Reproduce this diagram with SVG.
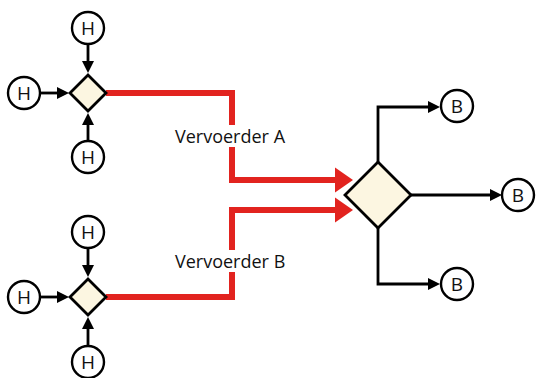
<svg xmlns="http://www.w3.org/2000/svg" width="536" height="378" viewBox="0 0 536 378">
<style>
.c{fill:#fff;stroke:#000;stroke-width:2.4}
.d{fill:#fcf6e1;stroke:#000;stroke-width:2.8;stroke-linejoin:miter}
.t{font-family:"Open Sans","DejaVu Sans",sans-serif;font-size:18px;fill:#111}
.ct{font-family:"Open Sans","DejaVu Sans",sans-serif;font-size:19px;fill:#111;text-anchor:middle}
.k{fill:none;stroke:#000;stroke-width:2.8}
.r{fill:none;stroke:#e2231f;stroke-width:6;stroke-linejoin:miter}
</style>
<defs>
<marker id="ak" markerUnits="userSpaceOnUse" markerWidth="12" markerHeight="12" refX="0" refY="6" orient="auto"><path d="M0,0 L12,6 L0,12 z" fill="#000"/></marker>
<marker id="ar" markerUnits="userSpaceOnUse" markerWidth="18" markerHeight="26" refX="0" refY="13" orient="auto"><path d="M0,0.5 L18,13 L0,25.5 z" fill="#e2231f"/></marker>
</defs>
<g id="connectors">
<path class="r" d="M106,93 H232 V180 H335" marker-end="url(#ar)"/>
<path class="r" d="M106,297 H232 V210 H335" marker-end="url(#ar)"/>
<path class="k" d="M88,44 V61" marker-end="url(#ak)"/>
<path class="k" d="M40,93 H57" marker-end="url(#ak)"/>
<path class="k" d="M88,141 V125" marker-end="url(#ak)"/>
<path class="k" d="M88,248 V265" marker-end="url(#ak)"/>
<path class="k" d="M40,297 H57" marker-end="url(#ak)"/>
<path class="k" d="M88,346 V329" marker-end="url(#ak)"/>
<path class="k" d="M378,162 V107 H428" marker-end="url(#ak)"/>
<path class="k" d="M411,195 H490" marker-end="url(#ak)"/>
<path class="k" d="M378,228 V284 H428" marker-end="url(#ak)"/>
</g>
<g id="labelA"><rect x="172" y="125" width="116" height="22" fill="#fff"/><text class="t" x="175" y="143">Vervoerder A</text></g>
<g id="labelB"><rect x="172" y="250" width="116" height="22" fill="#fff"/><text class="t" x="175" y="268">Vervoerder B</text></g>
<g id="g1"><path class="d" d="M88,75 L106,93 L88,111 L70,93 Z"/></g>
<g id="g2"><path class="d" d="M88,279 L106,297 L88,315 L70,297 Z"/></g>
<g id="gmain"><path class="d" d="M378,162 L411,195 L378,228 L345,195 Z"/></g>
<g id="h1"><circle class="c" cx="88" cy="28" r="16"/><text class="ct" x="88" y="35">H</text></g>
<g id="h2"><circle class="c" cx="24" cy="93" r="16"/><text class="ct" x="24" y="100">H</text></g>
<g id="h3"><circle class="c" cx="88" cy="157" r="16"/><text class="ct" x="88" y="164">H</text></g>
<g id="h4"><circle class="c" cx="88" cy="232" r="16"/><text class="ct" x="88" y="239">H</text></g>
<g id="h5"><circle class="c" cx="24" cy="297" r="16"/><text class="ct" x="24" y="304">H</text></g>
<g id="h6"><circle class="c" cx="88" cy="362" r="16"/><text class="ct" x="88" y="369">H</text></g>
<g id="b1"><circle class="c" cx="457" cy="106" r="16"/><text class="ct" x="457" y="113">B</text></g>
<g id="b2"><circle class="c" cx="518" cy="195" r="16"/><text class="ct" x="518" y="202">B</text></g>
<g id="b3"><circle class="c" cx="457" cy="284" r="16"/><text class="ct" x="457" y="291">B</text></g>
</svg>
